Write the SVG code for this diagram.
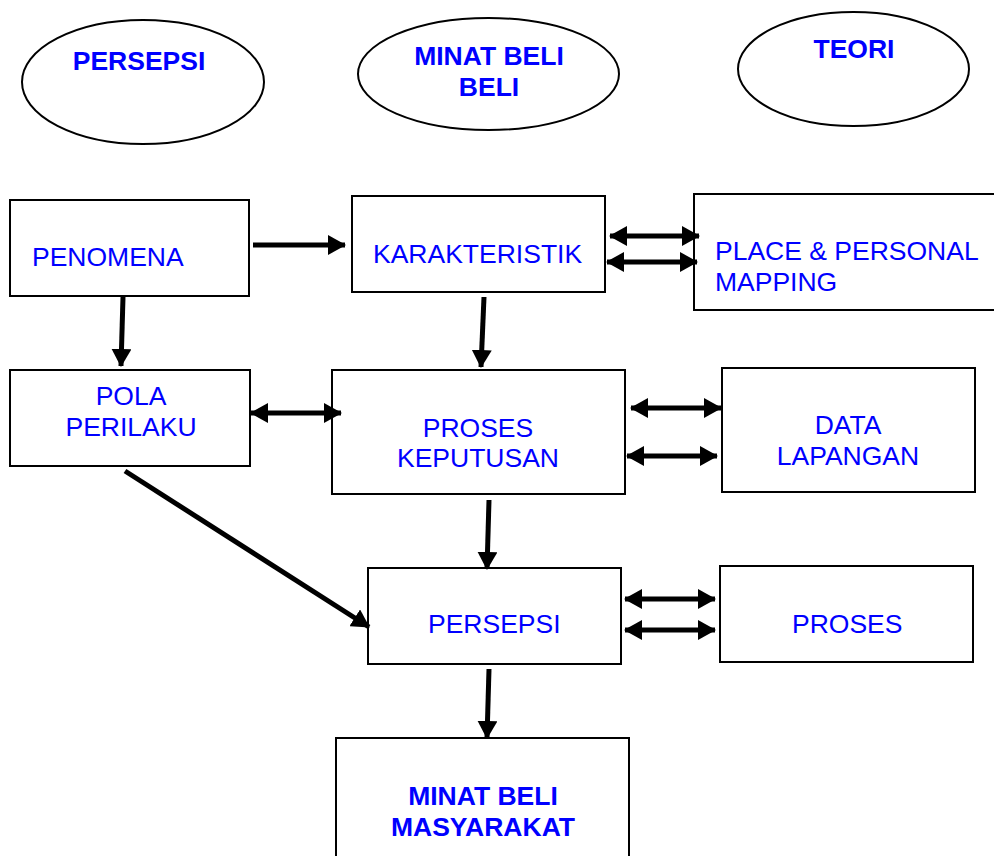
<svg xmlns="http://www.w3.org/2000/svg" width="994" height="856" viewBox="0 0 994 856">
  <style>
    .shape { fill: #ffffff; stroke: #000000; stroke-width: 2; }
    .lbl { font-family: "Liberation Sans", Arial, sans-serif; font-size: 26.5px; fill: #0000ff; }
    .bold { font-weight: bold; }
    .mid { text-anchor: middle; }
    .conn { stroke: #000000; stroke-width: 5; fill: none; }
  </style>
  <defs>
    <marker id="head" markerUnits="userSpaceOnUse" viewBox="0 0 18 20" markerWidth="18" markerHeight="20" refX="17" refY="10" orient="auto-start-reverse">
      <path d="M0,0 L18,10 L0,20 Z" fill="#000000"/>
    </marker>
  </defs>
  <rect width="994" height="856" fill="#ffffff"/>

  <!-- column headers -->
  <g id="hdr-persepsi">
    <ellipse class="shape" cx="143" cy="82" rx="121" ry="62"/>
    <text class="lbl bold mid" x="139" y="70">PERSEPSI</text>
  </g>
  <g id="hdr-minat">
    <ellipse class="shape" cx="488.5" cy="74" rx="130.5" ry="56"/>
    <text class="lbl bold mid" x="489" y="65">MINAT BELI</text>
    <text class="lbl bold mid" x="489" y="96">BELI</text>
  </g>
  <g id="hdr-teori">
    <ellipse class="shape" cx="853.5" cy="69" rx="115.5" ry="57"/>
    <text class="lbl bold mid" x="854" y="58">TEORI</text>
  </g>

  <!-- nodes -->
  <g id="penomena">
    <rect class="shape" x="10" y="200" width="239" height="96"/>
    <text class="lbl" x="32" y="266">PENOMENA</text>
  </g>
  <g id="karakteristik">
    <rect class="shape" x="352" y="196" width="253" height="96"/>
    <text class="lbl" x="373" y="263">KARAKTERISTIK</text>
  </g>
  <g id="place-mapping">
    <rect class="shape" x="694" y="194" width="310" height="116"/>
    <text class="lbl" x="715" y="260">PLACE &amp; PERSONAL</text>
    <text class="lbl" x="715" y="291">MAPPING</text>
  </g>
  <g id="pola-perilaku">
    <rect class="shape" x="10" y="370" width="240" height="96"/>
    <text class="lbl mid" x="131" y="405">POLA</text>
    <text class="lbl mid" x="131" y="436">PERILAKU</text>
  </g>
  <g id="proses-keputusan">
    <rect class="shape" x="332" y="370" width="293" height="124"/>
    <text class="lbl mid" x="478" y="437">PROSES</text>
    <text class="lbl mid" x="478" y="467">KEPUTUSAN</text>
  </g>
  <g id="data-lapangan">
    <rect class="shape" x="722" y="368" width="253" height="124"/>
    <text class="lbl mid" x="848" y="434">DATA</text>
    <text class="lbl mid" x="848" y="465">LAPANGAN</text>
  </g>
  <g id="persepsi">
    <rect class="shape" x="368" y="568" width="253" height="96"/>
    <text class="lbl" x="428" y="633">PERSEPSI</text>
  </g>
  <g id="proses">
    <rect class="shape" x="720" y="566" width="253" height="96"/>
    <text class="lbl" x="792" y="633">PROSES</text>
  </g>
  <g id="minat-masyarakat">
    <rect class="shape" x="336" y="738" width="293" height="130"/>
    <text class="lbl bold mid" x="483" y="805">MINAT BELI</text>
    <text class="lbl bold mid" x="483" y="836">MASYARAKAT</text>
  </g>

  <!-- connectors -->
  <g id="connectors">
    <line class="conn" x1="253" y1="245" x2="345" y2="245" marker-end="url(#head)"/>
    <line class="conn" x1="123" y1="297" x2="121" y2="366" marker-end="url(#head)"/>
    <line class="conn" x1="484" y1="297" x2="481" y2="367" marker-end="url(#head)"/>
    <line class="conn" x1="610" y1="236" x2="699" y2="236" marker-start="url(#head)" marker-end="url(#head)"/>
    <line class="conn" x1="607" y1="262" x2="697" y2="262" marker-start="url(#head)" marker-end="url(#head)"/>
    <line class="conn" x1="251" y1="413" x2="341" y2="413" marker-start="url(#head)" marker-end="url(#head)"/>
    <line class="conn" x1="631" y1="408" x2="721" y2="408" marker-start="url(#head)" marker-end="url(#head)"/>
    <line class="conn" x1="627" y1="456" x2="717" y2="456" marker-start="url(#head)" marker-end="url(#head)"/>
    <line class="conn" x1="125" y1="471" x2="369" y2="627" marker-end="url(#head)"/>
    <line class="conn" x1="489" y1="500" x2="487" y2="569" marker-end="url(#head)"/>
    <line class="conn" x1="625" y1="599" x2="715" y2="599" marker-start="url(#head)" marker-end="url(#head)"/>
    <line class="conn" x1="625" y1="630" x2="715" y2="630" marker-start="url(#head)" marker-end="url(#head)"/>
    <line class="conn" x1="489" y1="669" x2="487" y2="738" marker-end="url(#head)"/>
  </g>
</svg>
